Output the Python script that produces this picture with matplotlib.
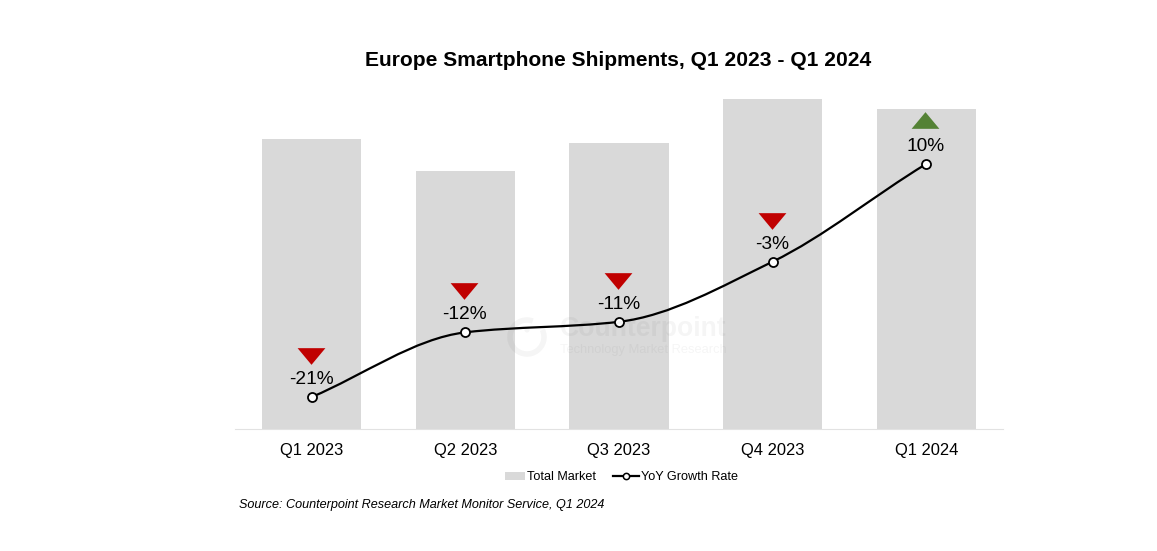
import numpy as np
import matplotlib
matplotlib.use("Agg")
import matplotlib.pyplot as plt
from matplotlib.path import Path
from matplotlib.patches import PathPatch, Arc, Circle, Rectangle
from matplotlib.lines import Line2D
from matplotlib.legend_handler import HandlerPatch
from matplotlib.transforms import offset_copy, IdentityTransform

categories = ["Q1 2023", "Q2 2023", "Q3 2023", "Q4 2023", "Q1 2024"]
market = [290, 258, 286, 330, 320]
growth = [-21.0, -12.4, -11.0, -3.0, 10.0]
growth_labels = ["-21%", "-12%", "-11%", "-3%", "10%"]

plt.rcParams['font.family'] = ['Liberation Sans', 'DejaVu Sans']
W, H = 1157, 551
fig = plt.figure(figsize=(W/100, H/100), dpi=100, facecolor='white')
ax = fig.add_axes([235/W, 1-429/H, (1003-235)/W, (429-60)/H])
x = np.arange(5)
ax.set_xlim(-0.5, 4.5)
ax.set_ylim(0, 369)
bars = ax.bar(x, market, width=0.645, color='#d9d9d9', zorder=1)
for s in ['top', 'left', 'right']:
    ax.spines[s].set_visible(False)
ax.spines['bottom'].set_color('#e2e2e2')
ax.set_yticks([])
ax.set_xticks(x, categories, fontsize=11.9)
ax.tick_params(axis='x', length=0, pad=10)

ax2 = ax.twinx()
ax2.set_ylim(-25.26, 23.83)
ax2.axis('off')
g = np.array(growth, float)
# monotone (harmonic-mean) tangents, as the smooth line in the source looks
d = np.diff(g)
m = np.zeros(5)
m[1:-1] = 2 * d[:-1] * d[1:] / (d[:-1] + d[1:])
m[0] = d[0]
m[-1] = d[-1] * 0.95
verts = [(x[0], g[0])]
codes = [Path.MOVETO]
for i in range(4):
    verts += [(x[i]+1/3, g[i]+m[i]/3), (x[i+1]-1/3, g[i+1]-m[i+1]/3), (x[i+1], g[i+1])]
    codes += [Path.CURVE4]*3
ax2.add_patch(PathPatch(Path(verts, codes), fc='none', ec='black', lw=1.6, zorder=3))
ax2.plot(x, g, ls='none', marker='o', ms=6.5, mfc='white', mec='black', mew=1.3, zorder=4)
line_handle = Line2D([], [], color='black', lw=1.6, marker='o', ms=4.5, mfc='white', mec='black', mew=1.1)

# wide triangles (28 x 17 px): marker paths are scaled by their largest extent
tri_up = Path([(-1, -0.6), (1, -0.6), (0, 0.6), (-1, -0.6)], closed=True)
tri_dn = Path([(-1, 0.6), (1, 0.6), (0, -0.6), (-1, 0.6)], closed=True)
for xi, gi, lab in zip(x, g, growth_labels):
    up = gi > 0
    ax2.annotate(lab, (xi, gi), xytext=(-0.5, 12.5), textcoords='offset points',
                 ha='center', va='center', fontsize=13.8, zorder=5)
    tr = offset_copy(ax2.transData, fig=fig, x=-1, y=41 if not up else 43.5, units='dots')
    ax2.plot([xi], [gi], transform=tr, marker=tri_up if up else tri_dn, ms=20, ls='none',
             mfc='#548235' if up else '#c00000', mec='none', zorder=5)

fig.text(618/W, 1-60/H, "Europe Smartphone Shipments, Q1 2023 - Q1 2024", ha='center', va='center',
         fontsize=15.15, fontweight='bold')
fig.text(239/W, 1-505/H, "Source: Counterpoint Research Market Monitor Service, Q1 2024", ha='left', va='center',
         fontsize=9.07, style='italic')

# Watermark (faint, on top of bars)
wm = dict(color='black', alpha=0.04, zorder=6)
fig.text(560/W, 1-329/H, "Counterpoint", ha='left', va='center', fontsize=19.2, fontweight='bold', **wm)
fig.text(560/W, 1-350/H, "Technology Market Research", ha='left', va='center', fontsize=9.3, **wm)
px = IdentityTransform()
fig.add_artist(Arc((527, H-337), 34, 34, theta1=70, theta2=385, lw=4, transform=px, color='black', alpha=0.04))
fig.add_artist(Circle((527, H-330), 2.6, transform=px, fc='black', ec='none', alpha=0.04))

def swatch(legend, orig_handle, xdescent, ydescent, width, height, fontsize):
    return Rectangle((width - 14.4 - xdescent, height/2 - 3.0 - ydescent), 14.4, 6.0)

fig.legend([bars[0], line_handle], ['Total Market', 'YoY Growth Rate'], loc='center',
           bbox_to_anchor=(618.5/W, 1-477.5/H), ncol=2, frameon=False, fontsize=9.1, handlelength=2.1,
           columnspacing=1.3, handletextpad=0.15, handleheight=0.6,
           handler_map={bars[0]: HandlerPatch(patch_func=swatch)})
fig.savefig('out.png', dpi=100)
